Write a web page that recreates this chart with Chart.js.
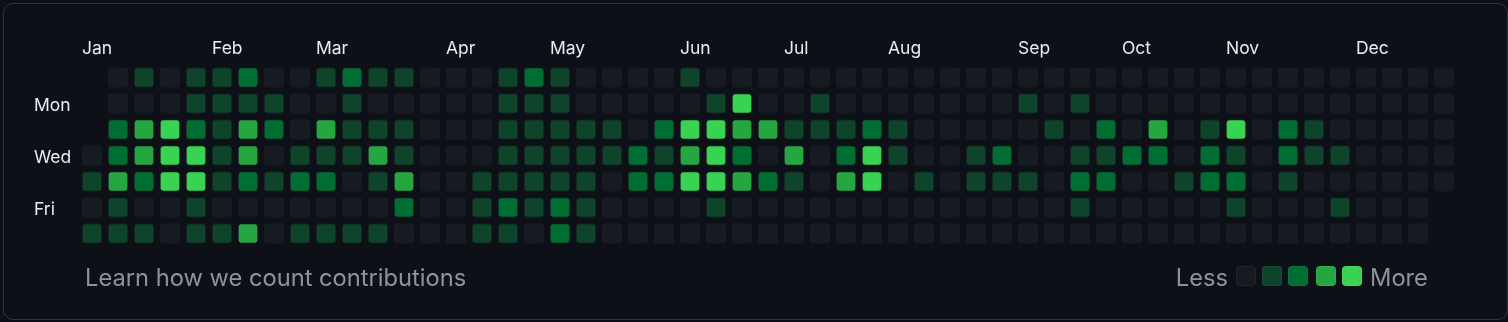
<!DOCTYPE html>
<html>
<head>
<meta charset="utf-8">
<script src="https://cdn.jsdelivr.net/npm/chart.js@4"></script>
<style>
  html, body { margin: 0; padding: 0; background: #0d1117; }
  body { width: 1508px; height: 322px; position: relative; overflow: hidden; font-family: Inter, "Noto Sans", sans-serif; }
  .box { position: absolute; left: 3px; top: 3px; width: 1505px; height: 317px; border: 1px solid #30363d; border-radius: 10px; box-sizing: border-box; }
  #graph { position: absolute; left: 0; top: 0; }
  .foot { position: absolute; top: 266px; color: #8b949e; font-size: 23.7px; line-height: 1; white-space: nowrap; }
  .sw { position: absolute; top: 266px; width: 20px; height: 20px; border-radius: 4px; box-sizing: border-box; border: 1px solid rgba(255,255,255,0.05); }
</style>
</head>
<body>
<div class="box"></div>
<canvas id="graph" width="1508" height="280"></canvas>
<span class="foot" style="left:85px">Learn how we count contributions</span>
<span class="foot" style="right:280px">Less</span>
<div id="legend"></div>
<span class="foot" style="left:1370px">More</span>

<script>
// contribution level per week column (0-52), null = day outside the year
const sun = [null,0,1,0,1,1,2,0,0, 1,2,1,1,0,0,0,1,2, 1,0,0,0,0,1,0,0,0, 0,0,0,0,0,0,0,0,0, 0,0,0,0,0,0,0,0,0, 0,0,0,0,0,0,0,0]
const mon = [null,0,0,0,1,1,1,1,0, 0,1,0,0,0,0,0,1,1, 1,0,0,0,0,0,1,4,0, 0,1,0,0,0,0,0,0,0, 1,0,1,0,0,0,0,0,0, 0,0,0,0,0,0,0,0]
const tue = [null,2,3,4,2,1,3,2,0, 3,1,1,1,0,0,0,1,1, 1,1,1,0,2,4,4,3,3, 1,1,1,2,1,0,0,0,0, 0,1,0,2,0,3,0,1,4, 0,2,1,0,0,0,0,0]
const wed = [0,2,3,4,4,1,3,0,1, 1,1,3,1,0,0,0,1,1, 1,1,1,2,1,3,4,2,0, 3,0,2,4,1,0,0,1,2, 0,0,1,1,2,2,0,2,1, 0,2,1,1,0,0,0,0]
const thu = [1,3,2,4,4,1,2,1,2, 2,0,1,3,0,0,1,1,1, 1,1,0,2,2,4,4,3,2, 1,0,3,4,0,1,0,1,1, 1,0,2,2,0,0,1,2,2, 0,1,0,0,0,0,0,0]
const fri = [0,1,0,0,1,0,0,0,0, 0,0,0,2,0,0,1,2,1, 2,1,0,0,0,0,1,0,0, 0,0,0,0,0,0,0,0,0, 0,0,1,0,0,0,0,0,1, 0,0,0,1,0,0,0,null]
const sat = [1,1,1,0,1,1,3,0,1, 1,1,1,0,0,0,1,1,0, 2,1,0,0,0,0,0,0,0, 0,0,0,0,0,0,0,0,0, 0,0,0,0,0,0,0,0,0, 0,0,0,0,0,0,0,null]

const dayNames = ['Sun', 'Mon', 'Tue', 'Wed', 'Thu', 'Fri', 'Sat']
const dayTicks = [1, 3, 5]
const dayLabels = ['Mon', 'Wed', 'Fri']
const monthCols = [0, 5, 9, 14, 18, 23, 27, 31, 36, 40, 44, 49]
const monthLabels = ['Jan', 'Feb', 'Mar', 'Apr', 'May', 'Jun', 'Jul', 'Aug', 'Sep', 'Oct', 'Nov', 'Dec']
const levels = [0, 1, 2, 3, 4]

const palette = ['#161b22', '#0e4429', '#006d32', '#26a641', '#39d353']
const half = 0.385  // half of a cell, in row/column units
const labelFont = { family: 'Inter', size: 17.5 }
const labelColor = '#e6edf3'

const rows = [sun, mon, tue, wed, thu, fri, sat]
const datasets = rows.map((vals, r) => ({
    label: dayNames[r],
    data: vals.map((v, c) => v === null ? null : { x: c, y: [r - half, r + half], v: v }).filter(Boolean),
    backgroundColor: ctx => ctx.raw ? palette[ctx.raw.v] : palette[0],
    borderColor: 'rgba(255,255,255,0.05)',
    borderWidth: 1,
    borderRadius: 4,
    borderSkipped: false,
    grouped: false,
    barThickness: 20
}))

// legend swatches
const legend = document.getElementById('legend')
const swatchLeft = [1236, 1262, 1288, 1316, 1342]
levels.forEach((l, i) => {
    const d = document.createElement('div')
    d.className = 'sw'
    d.style.left = swatchLeft[i] + 'px'
    d.style.background = palette[l]
    legend.appendChild(d)
})

new Chart(document.getElementById('graph'), {
    type: 'bar',
    data: { datasets },
    options: {
        responsive: false,
        animation: false,
        events: [],
        layout: { padding: { left: 34, top: 37.5, right: 51, bottom: 33.5 } },
        plugins: { legend: { display: false }, tooltip: { enabled: false } },
        scales: {
            x: {
                type: 'linear',
                position: 'top',
                min: -0.5,
                max: 52.5,
                offset: false,
                grid: { display: false, drawTicks: false },
                border: { display: false },
                afterBuildTicks: s => { s.ticks = monthCols.map(c => ({ value: c - half })) },
                afterFit: s => { s.height = 27 },
                ticks: {
                    autoSkip: false,
                    maxRotation: 0,
                    align: 'start',
                    padding: 5,
                    color: labelColor,
                    font: labelFont,
                    callback: (v, i) => monthLabels[i]
                }
            },
            y: {
                type: 'linear',
                min: -0.5,
                max: 6.5,
                reverse: true,
                grid: { display: false, drawTicks: false },
                border: { display: false },
                afterBuildTicks: s => { s.ticks = dayTicks.map(v => ({ value: v })) },
                afterFit: s => { s.width = 45 },
                ticks: {
                    crossAlign: 'far',
                    labelOffset: 2,
                    color: labelColor,
                    font: labelFont,
                    callback: (v, i) => dayLabels[i]
                }
            }
        }
    }
})
</script>
</body>
</html>
